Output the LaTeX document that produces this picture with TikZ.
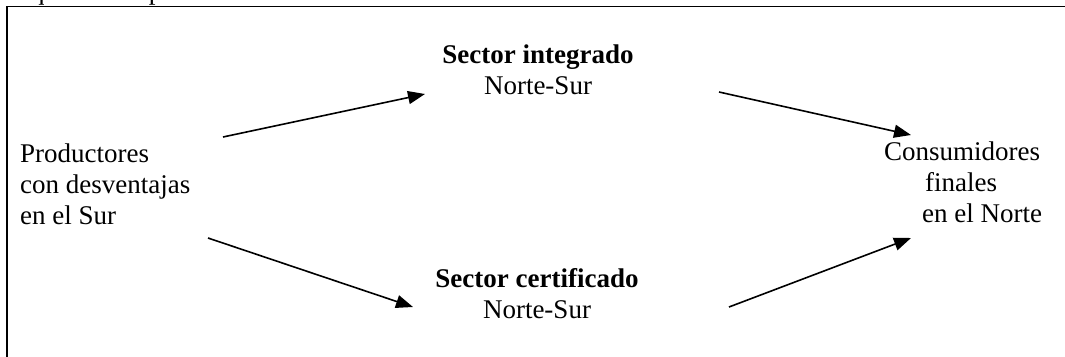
\documentclass[tikz,border=0pt]{standalone}
\usepackage{fontspec}
\setmainfont{Liberation Serif}
\usetikzlibrary{arrows.meta}
\begin{document}
\begin{tikzpicture}[x=1pt,y=-1pt,
  lbl/.style={inner sep=0pt, font=\fontsize{27}{31}\selectfont},
  flow/.style={line width=1.6pt, -{Triangle[length=17pt,width=13pt]}},
  frame/.style={line width=1.8pt}]
\useasboundingbox (0,0) rectangle (1065,356);
\draw[frame] (1200,6.5) -- (7,6.5) -- (7,420);
\node[lbl, anchor=base west] (cap) at (4,-0.3) {Esquema simplificado de los sectores de CJ};
\node[lbl, anchor=base west, align=left] (prod) at (20,224) {Productores\\con desventajas\\en el Sur};
\node[lbl, anchor=base west, align=left] (cons) at (884,222) {Consumidores\\\hspace{41pt}finales\\\hspace{38pt}en el Norte};
\node[lbl, anchor=base, align=center] (integ) at (538,94) {\textbf{Sector integrado}\\Norte-Sur};
\node[lbl, anchor=base, align=center] (cert) at (537,318) {\textbf{Sector certificado}\\Norte-Sur};
\coordinate (p1) at (223,137);
\coordinate (i1) at (425,94);
\coordinate (i2) at (719,92);
\coordinate (c1) at (911,135);
\coordinate (p2) at (208,238);
\coordinate (e1) at (413,307);
\coordinate (e2) at (729,307);
\coordinate (c2) at (911,238);
\draw[flow] (p1) -- (i1);
\draw[flow] (i2) -- (c1);
\draw[flow] (p2) -- (e1);
\draw[flow] (e2) -- (c2);
\end{tikzpicture}
\end{document}
